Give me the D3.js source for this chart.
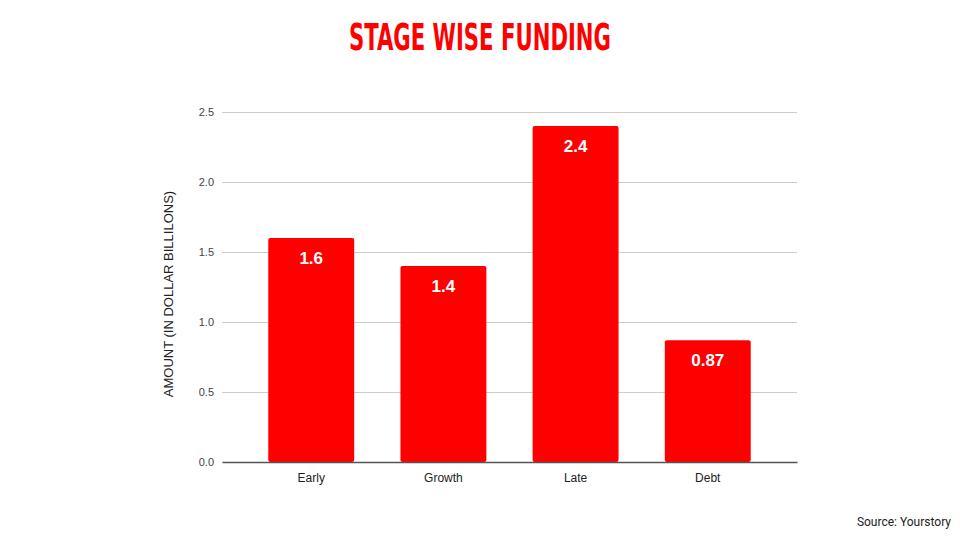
<!DOCTYPE html>
<html><head><meta charset="utf-8">
<script src="https://cdn.jsdelivr.net/npm/d3@7"></script>
<style>body{margin:0;background:#fff;} svg{display:block;}</style>
</head><body>
<svg id="c" width="960" height="540"></svg>
<script>
const categories = ["Early", "Growth", "Late", "Debt"];
const values = [1.6, 1.4, 2.4, 0.87];
const valueLabels = ["1.6", "1.4", "2.4", "0.87"];
const yTicks = [0, 0.5, 1.0, 1.5, 2.0, 2.5];

(function () {
const svg = d3.select("#c");
const pL = 222, pR = 797, pT = 112, pB = 462;
const x = d3.scaleBand().domain(categories).range([pL, pR]).paddingInner(0.35).paddingOuter(0.35);
const y = d3.scaleLinear().domain([0, 2.5]).range([pB, pT]);

svg.append("text").attr("x", 480).attr("y", 50).attr("text-anchor", "middle")
  .attr("fill", "#ff0000").attr("font-family", "'DejaVu Sans Condensed','Liberation Sans',sans-serif")
  .attr("font-weight", "bold").attr("font-size", 37)
  .attr("textLength", 262).attr("lengthAdjust", "spacingAndGlyphs")
  .text("STAGE WISE FUNDING");

svg.append("g").selectAll("line").data(yTicks.filter(d => d > 0)).join("line")
  .attr("x1", pL).attr("x2", pR).attr("y1", d => y(d)).attr("y2", d => y(d))
  .attr("stroke", "#cccccc").attr("stroke-width", 1).attr("shape-rendering", "crispEdges");

const yAxis = svg.append("g").attr("transform", `translate(${pL},0)`)
  .call(d3.axisLeft(y).tickValues(yTicks).tickFormat(d3.format(".1f")).tickSize(0).tickPadding(8));
yAxis.select(".domain").remove();
yAxis.selectAll("text").attr("font-family", "'Liberation Sans', Arial, sans-serif").attr("font-size", 11).attr("fill", "#444");

svg.append("g").selectAll("rect").data(values).join("rect")
  .attr("x", (d, i) => x(categories[i])).attr("width", x.bandwidth())
  .attr("y", d => y(d)).attr("height", d => y(0) - y(d))
  .attr("rx", 2).attr("fill", "#ff0000");

svg.append("g").selectAll("text").data(values).join("text")
  .attr("x", (d, i) => x(categories[i]) + x.bandwidth() / 2)
  .attr("y", d => y(d) + 26).attr("text-anchor", "middle")
  .attr("font-family", "'Liberation Sans', Arial, sans-serif").attr("font-weight", "bold").attr("font-size", 17)
  .attr("fill", "#fff").text((d, i) => valueLabels[i]);

const xAxis = svg.append("g").attr("transform", `translate(0,${pB})`)
  .call(d3.axisBottom(x).tickSize(0).tickPadding(11));
xAxis.select(".domain").attr("stroke", "#555").attr("stroke-width", 1.3);
xAxis.selectAll("text").attr("font-family", "'Liberation Sans', Arial, sans-serif").attr("font-size", 12).attr("fill", "#222");

svg.append("text").attr("transform", `translate(173,${(pT + pB) / 2 + 7}) rotate(-90)`)
  .attr("text-anchor", "middle").attr("font-family", "'Liberation Sans', Arial, sans-serif").attr("font-size", 13)
  .attr("fill", "#222").text("AMOUNT (IN DOLLAR BILLILONS)");

svg.append("text").attr("x", 951).attr("y", 526).attr("text-anchor", "end")
  .attr("font-family", "Roboto, Arial, sans-serif").attr("font-size", 12).attr("fill", "#222")
  .text("Source: Yourstory");
})();
</script>
</body></html>
